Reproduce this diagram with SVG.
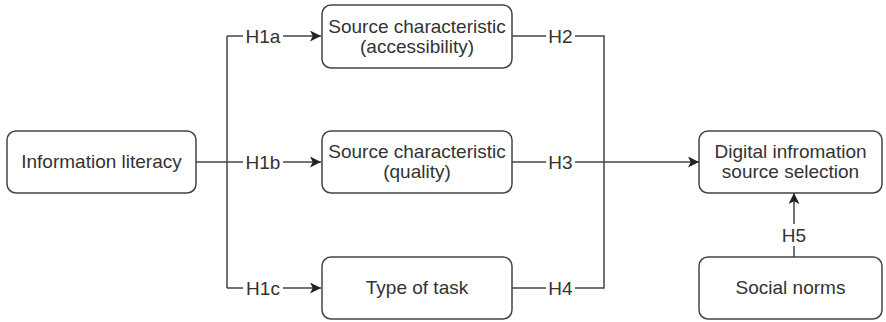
<svg xmlns="http://www.w3.org/2000/svg" width="886" height="322" viewBox="0 0 886 322">
  <style>
    .box { fill: #ffffff; stroke: #444444; stroke-width: 1.5; }
    .txt { font-family: "Liberation Sans", Arial, sans-serif; font-size: 19px; fill: #333333; text-anchor: middle; }
    .edge { fill: none; stroke: #444444; stroke-width: 1.5; }
    .lbl { font-family: "Liberation Sans", Arial, sans-serif; font-size: 19px; fill: #333333; text-anchor: middle; }
    .lblbg { fill: #ffffff; }
  </style>
  <defs>
    <marker id="arrow" viewBox="0 0 10 10" refX="10" refY="5" markerWidth="11" markerHeight="11" markerUnits="userSpaceOnUse" orient="auto">
      <path d="M0,0 L10,5 L0,10 L2.5,5 Z" fill="#222222"/>
    </marker>
  </defs>
  <rect width="886" height="322" fill="#ffffff"/>

  <g id="connectors">
    <!-- fan-out from Information literacy -->
    <path class="edge" d="M196,162 H227"/>
    <path class="edge" d="M227,36 V288"/>
    <path class="edge" d="M227,36 H321" marker-end="url(#arrow)"/>
    <path class="edge" d="M227,162 H321" marker-end="url(#arrow)"/>
    <path class="edge" d="M227,288 H321" marker-end="url(#arrow)"/>
    <!-- merge into Digital information source selection -->
    <path class="edge" d="M512,36 H604 V288 H512"/>
    <path class="edge" d="M512,162 H699" marker-end="url(#arrow)"/>
    <path class="edge" d="M794,257 V193" marker-end="url(#arrow)"/>
    <!-- edge labels -->
    <rect class="lblbg" x="243" y="25" width="40" height="22"/>
    <text class="lbl" x="263" y="43">H1a</text>
    <rect class="lblbg" x="243" y="151" width="40" height="22"/>
    <text class="lbl" x="263" y="169">H1b</text>
    <rect class="lblbg" x="243" y="277" width="40" height="22"/>
    <text class="lbl" x="263" y="295">H1c</text>
    <rect class="lblbg" x="546" y="25" width="29" height="22"/>
    <text class="lbl" x="560.5" y="43">H2</text>
    <rect class="lblbg" x="546" y="151" width="29" height="22"/>
    <text class="lbl" x="560.5" y="169">H3</text>
    <rect class="lblbg" x="546" y="277" width="29" height="22"/>
    <text class="lbl" x="560.5" y="295">H4</text>
    <rect class="lblbg" x="780" y="224" width="29" height="22"/>
    <text class="lbl" x="794" y="242">H5</text>
  </g>

  <g id="information-literacy">
    <rect class="box" x="7" y="131" width="189" height="62" rx="9"/>
    <text class="txt" x="101.5" y="168">Information literacy</text>
  </g>
  <g id="source-accessibility">
    <rect class="box" x="322" y="5" width="190" height="63" rx="9"/>
    <text class="txt" x="417" y="33">Source characteristic</text>
    <text class="txt" x="417" y="53">(accessibility)</text>
  </g>
  <g id="source-quality">
    <rect class="box" x="322" y="131" width="190" height="62" rx="9"/>
    <text class="txt" x="417" y="158">Source characteristic</text>
    <text class="txt" x="417" y="178">(quality)</text>
  </g>
  <g id="type-of-task">
    <rect class="box" x="322" y="257" width="190" height="62" rx="9"/>
    <text class="txt" x="417" y="294">Type of task</text>
  </g>
  <g id="digital-source-selection">
    <rect class="box" x="699" y="131" width="183" height="62" rx="9"/>
    <text class="txt" x="790.5" y="158">Digital infromation</text>
    <text class="txt" x="790.5" y="178">source selection</text>
  </g>
  <g id="social-norms">
    <rect class="box" x="699" y="257" width="183" height="62" rx="9"/>
    <text class="txt" x="790.5" y="294">Social norms</text>
  </g>
</svg>
